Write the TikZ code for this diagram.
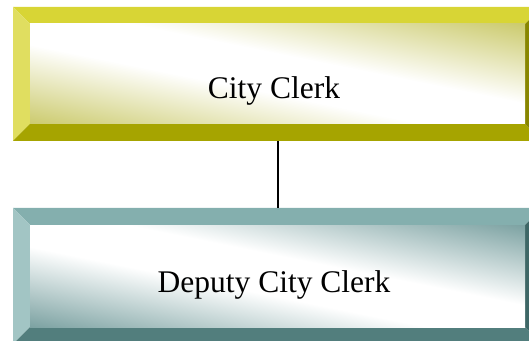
\documentclass[tikz,border=0pt]{standalone}
\usepackage{fontspec}
\setmainfont{Liberation Serif}
\definecolor{ytop}{HTML}{D8D535}
\definecolor{yleft}{HTML}{E0DE60}
\definecolor{ybot}{HTML}{A6A400}
\definecolor{yright}{HTML}{888600}
\definecolor{yin}{HTML}{C6C55E}
\definecolor{ttop}{HTML}{84AFAE}
\definecolor{tleft}{HTML}{A2C5C4}
\definecolor{tbot}{HTML}{527E7D}
\definecolor{tright}{HTML}{3E6766}
\definecolor{tin}{HTML}{6E9898}
\pgfdeclareverticalshading{yshade}{100bp}{color(0bp)=(yin); color(18bp)=(yin); color(44bp)=(white); color(56bp)=(white); color(82bp)=(yin); color(100bp)=(yin)}
\pgfdeclareverticalshading{tshade}{100bp}{color(0bp)=(tin); color(18bp)=(tin); color(44bp)=(white); color(56bp)=(white); color(82bp)=(tin); color(100bp)=(tin)}
\tikzset{
  boxnode/.style={rectangle, minimum width=529pt, minimum height=134pt, inner sep=0pt, outer sep=0pt},
  lbl/.style={anchor=base, inner sep=0pt, font=\fontsize{31.5pt}{36pt}\selectfont},
  conn/.style={draw=black, line width=2pt}
}
\newcommand{\bevelbox}[5]{%
  \fill[#2] (#1.north west) -- (#1.north east) -- ([shift={(-17pt,-17pt)}]#1.north east) -- ([shift={(17pt,-17pt)}]#1.north west) -- cycle;
  \fill[#3] (#1.north west) -- ([shift={(17pt,-17pt)}]#1.north west) -- ([shift={(17pt,17pt)}]#1.south west) -- (#1.south west) -- cycle;
  \fill[#4] (#1.south west) -- ([shift={(17pt,17pt)}]#1.south west) -- ([shift={(-17pt,17pt)}]#1.south east) -- (#1.south east) -- cycle;
  \fill[#5] (#1.north east) -- ([shift={(-17pt,-17pt)}]#1.north east) -- ([shift={(-17pt,17pt)}]#1.south east) -- (#1.south east) -- cycle;
}
\begin{document}
\begin{tikzpicture}[x=1pt,y=1pt]
\useasboundingbox (0,0) rectangle (529,340);
\begin{scope}
\clip (0,0) rectangle (529,340);
\node[boxnode] (cc) at (277.5,266) {};
\node[boxnode, minimum height=136pt] (dc) at (277.5,64) {};
\bevelbox{cc}{ytop}{yleft}{ybot}{yright}
\shade[shading=yshade, shading angle=-11.4]
  ([shift={(17pt,-17pt)}]cc.north west) rectangle ([shift={(-17pt,17pt)}]cc.south east);
\bevelbox{dc}{ttop}{tleft}{tbot}{tright}
\shade[shading=tshade, shading angle=-11.4]
  ([shift={(17pt,-17pt)}]dc.north west) rectangle ([shift={(-17pt,17pt)}]dc.south east);
\node[lbl] (cctext) at (274,241) {City Clerk};
\node[lbl] (dctext) at (274,48) {Deputy City Clerk};
\draw[conn] (cc.south) -- (dc.north);
\end{scope}
\end{tikzpicture}
\end{document}
